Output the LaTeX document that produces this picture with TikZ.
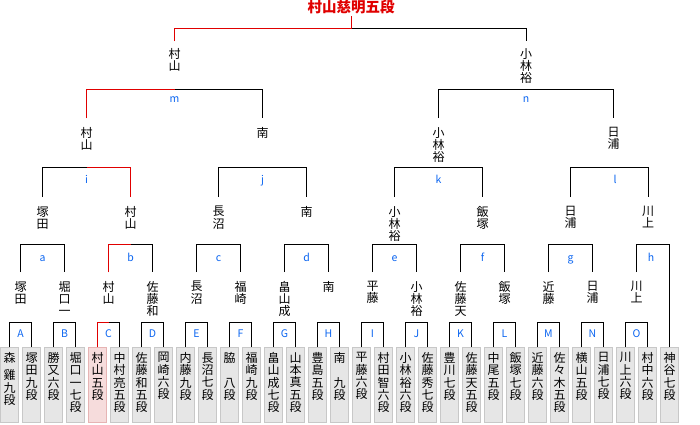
\documentclass[tikz,border=0pt]{standalone}
\usepackage{fontspec}
\setmainfont{Noto Sans CJK JP}
\usetikzlibrary{positioning,calc}
\definecolor{tmWin}{HTML}{E00000}
\definecolor{tmLetter}{HTML}{0A64F0}
\definecolor{tmBox}{HTML}{E6E6E6}
\definecolor{tmBoxLine}{HTML}{C8C8C8}
\definecolor{tmHi}{HTML}{F6DCDC}
\definecolor{tmHiLine}{HTML}{E6B4B4}
\newcommand\tatebox[1]{\parbox[t][75pt][t]{18pt}{\centering\vspace*{5pt}#1}}
\tikzset{
  player/.style={draw=tmBoxLine, fill=tmBox, line width=1pt, inner sep=0pt, anchor=north,
    font=\fontsize{12}{12.3}\selectfont},
  pname/.style={anchor=north, align=center, inner xsep=0pt, inner ysep=9pt,
    font=\fontsize{12}{12.3}\selectfont},
  mlabel/.style={text=tmLetter, font=\fontsize{10.5}{10.5}\selectfont, anchor=base, inner sep=0pt},
  bracket/.style={draw=black, line width=1pt},
  winpath/.style={draw=tmWin, line width=1pt},
  champ/.style={text=tmWin, font=\fontsize{14.5}{15}\selectfont\bfseries, inner xsep=0pt, inner ysep=2pt, anchor=north}
}
\begin{document}
\begin{tikzpicture}[x=1pt, y=-1pt]
  \useasboundingbox (0,0) rectangle (700,424);
  % players
  \foreach \t [count=\i from 0] in {{森\\[5pt]雞\\九\\段}, {塚\\田\\九\\段}, {勝\\又\\六\\段}, {堀\\口\\一\\七\\段},
      {村\\山\\五\\段}, {中\\村\\亮\\五\\段}, {佐\\藤\\和\\五\\段}, {岡\\崎\\六\\段},
      {内\\藤\\九\\段}, {長\\沼\\七\\段}, {脇\\　\\八\\段}, {福\\崎\\九\\段},
      {畠\\山\\成\\七\\段}, {山\\本\\真\\五\\段}, {豊\\島\\五\\段}, {南\\　\\九\\段},
      {平\\藤\\六\\段}, {村\\田\\智\\六\\段}, {小\\林\\裕\\六\\段}, {佐\\藤\\秀\\七\\段},
      {豊\\川\\七\\段}, {佐\\藤\\天\\五\\段}, {中\\尾\\五\\段}, {飯\\塚\\七\\段},
      {近\\藤\\六\\段}, {佐\\々\\木\\五\\段}, {横\\山\\五\\段}, {日\\浦\\七\\段},
      {川\\上\\六\\段}, {村\\中\\六\\段}, {神\\谷\\七\\段}}{
    \ifnum\i=4 \def\fc{tmHi}\def\dc{tmHiLine}\else\def\fc{tmBox}\def\dc{tmBoxLine}\fi
    \node[player, fill=\fc, draw=\dc] (p\i) at (22*\i+9.5, 347) {\tatebox{\t}};
  }
  % first round
  \foreach \l/\w [count=\k from 0] in {A/{塚\\田}, B/{堀\\口\\一}, C/{村\\山}, D/{佐\\藤\\和},
      E/{長\\沼}, F/{福\\崎}, G/{畠\\山\\成}, H/{南}, I/{平\\藤}, J/{小\\林\\裕},
      K/{佐\\藤\\天}, L/{飯\\塚}, M/{近\\藤}, N/{日\\浦}, O/{川\\上}}{
    \pgfmathtruncatemacro\pl{2*\k}
    \pgfmathtruncatemacro\pr{2*\k+1}
    \draw[bracket] (p\pl.north) |- (p\pr.north |- 0,322) -- (p\pr.north);
    \node[mlabel] (m\l) at (20.5+44*\k, 337) {\l};
    \node[pname] (w\l) at (20.5+44*\k, 272) {\w};
  }
  % second round
  \foreach \l/\L/\R/\x/\w in {a/A/B/42.5/{塚\\田}, b/C/D/130.5/{村\\山}, c/E/F/218.5/{長\\沼},
      d/G/H/306.5/{南}, e/I/J/394.5/{小\\林\\裕}, f/K/L/482.5/{飯\\塚}, g/M/N/570.5/{日\\浦}}{
    \draw[bracket] (w\L.north) |- (w\R.north |- 0,244) -- (w\R.north);
    \node[mlabel] (m\l) at (\x, 261.5) {\l};
    \node[pname] (w\l) at (\x, 197) {\w};
  }
  \draw[bracket] (wO.north) |- (p30.north |- 0,244) -- (p30.north);
  \node[mlabel] (mh) at (651, 261.5) {h};
  \node[pname] (wh) at (648, 197) {川\\上};
  % third round
  \foreach \l/\L/\R/\x/\nx/\w in {i/a/b/86.5/86.5/{村\\山}, j/c/d/262.5/262.5/{南},
      k/e/f/438.5/438.5/{小\\林\\裕}, l/g/h/615/613.5/{日\\浦}}{
    \draw[bracket] (w\L.north) |- (w\R.north |- 0,167) -- (w\R.north);
    \node[mlabel] (m\l) at (\x, 183) {\l};
    \node[pname] (w\l) at (\nx, 118) {\w};
  }
  % semi final
  \foreach \l/\L/\R/\x/\w in {m/i/j/174.5/{村\\山}, n/k/l/526/{小\\林\\裕}}{
    \draw[bracket] (w\L.north) |- (w\R.north |- 0,89) -- (w\R.north);
    \node[mlabel] (m\l) at (\x, 102.5) {\l};
    \node[pname, inner ysep=7pt] (w\l) at (\x, 41) {\w};
  }
  % final
  \node[champ] (champ) at (351, -2) {村山慈明五段};
  \draw[bracket] (wm.north) |- (wn.north |- 0,28) -- (wn.north);
  % winner path
  \draw[winpath] (wm.north) |- (champ.south |- 0,28) -- (champ.south);
  \draw[winpath] (wi.north) |- (mm |- 0,89);
  \draw[winpath] (wb.north) |- (mi |- 0,167);
  \draw[winpath] (wC.north) |- (mb |- 0,244);
  \draw[winpath] (p4.north) |- (mC |- 0,322);
\end{tikzpicture}
\end{document}
